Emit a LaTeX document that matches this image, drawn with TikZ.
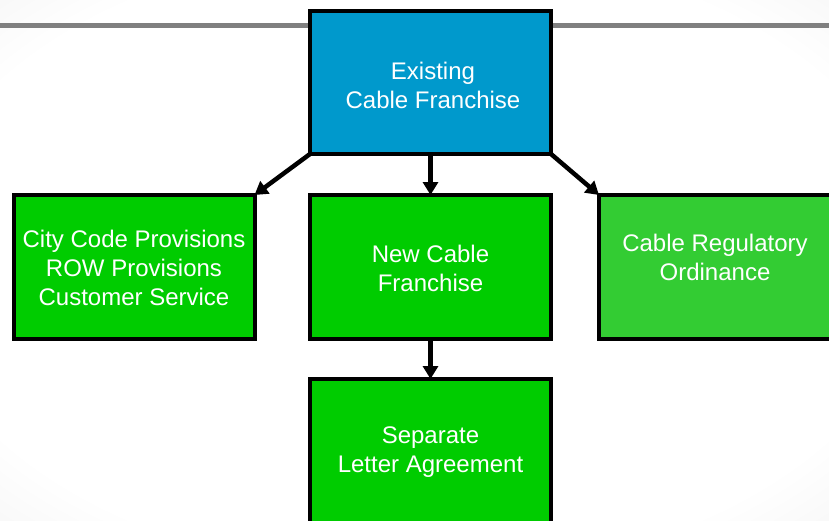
\documentclass[tikz,border=0pt]{standalone}
\usepackage{fontspec}
\setmainfont{Liberation Sans}
\usetikzlibrary{arrows.meta}
\definecolor{topblue}{RGB}{0,153,204}
\definecolor{boxgreen}{RGB}{0,204,0}
\definecolor{lightgreen}{RGB}{51,204,51}
\definecolor{rulegray}{RGB}{128,128,128}
\pgfdeclareradialshading{bgshade}{\pgfpoint{0bp}{0bp}}{color(0bp)=(white); color(30bp)=(white); color(50bp)=(black!9); color(71bp)=(black!14); color(100bp)=(black!14)}
\tikzset{
  box/.style={draw=black, line width=4pt, minimum width=241pt, minimum height=144pt, inner sep=0pt, outer sep=0pt},
  txt/.style={text=white, align=center, font=\fontsize{24pt}{29pt}\selectfont, inner sep=0pt},
  conn/.style={line width=4.5pt, -{Triangle[width=15pt,length=13pt]}}
}
\begin{document}
\begin{tikzpicture}[x=1pt,y=-1pt]
\useasboundingbox (0,0) rectangle (829,520);
\shade[shading=bgshade] (0,0) rectangle (829,520);
\draw[rulegray, line width=5pt] (0,25) -- (829,25);
\node[box, fill=topblue, minimum height=143pt] (top) at (430.5,82.5) {};
\node[box, fill=boxgreen] (left) at (134,267) {};
\node[box, fill=boxgreen] (mid) at (430.5,267) {};
\node[box, fill=lightgreen] (right) at (719.5,267) {};
\node[box, fill=boxgreen] (bot) at (430.5,451) {};
\node[txt] (ttop) at (433,85) {Existing\\Cable Franchise};
\node[txt] (tleft) at (134,268) {City Code Provisions\\ROW Provisions\\Customer Service};
\node[txt] (tmid) at (430.5,268) {New Cable\\Franchise};
\node[txt] (tright) at (715,257) {Cable Regulatory\\Ordinance};
\node[txt] (tbot) at (430.5,452) {Separate\\Letter Agreement};
\draw[conn] (top.south west) -- (left.north east);
\draw[conn] (top.south) -- (mid.north);
\draw[conn] (top.south east) -- (right.north west);
\draw[conn] (mid.south) -- (bot.north);
\end{tikzpicture}
\end{document}
